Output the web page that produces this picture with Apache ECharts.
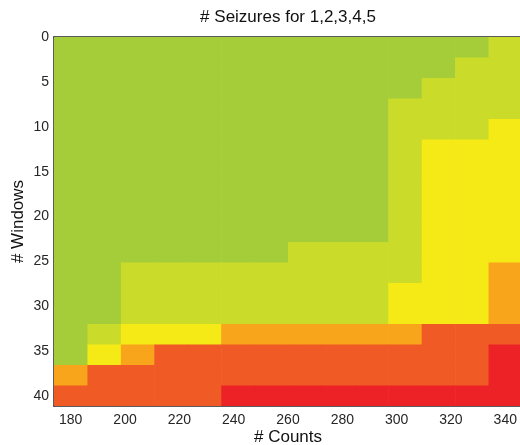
<!DOCTYPE html>
<html>
<head>
<meta charset="utf-8">
<script src="https://cdn.jsdelivr.net/npm/echarts@6/dist/echarts.min.js"></script>
<style>html,body{margin:0;padding:0;background:#fff}#c{width:520px;height:445px}</style>
</head>
<body>
<div id="c"></div>
<script>
// Column centres (# Counts) and row centres (# Windows)
var counts = [180, 192.31, 204.62, 216.92, 229.23, 241.54, 253.85, 266.15, 278.46, 290.77, 303.08, 315.38, 327.69, 340];
var windows = [1.14, 3.42, 5.71, 7.99, 10.27, 12.56, 14.84, 17.12, 19.41, 21.69, 23.97, 26.26, 28.54, 30.82, 33.11, 35.39, 37.67, 39.96];
// number of seizures detected per cell (rows = windows, cols = counts)
var seizures = [
  [5,5,5,5,5,5,5,5,5,5,5,5,5,4],
  [5,5,5,5,5,5,5,5,5,5,5,5,4,4],
  [5,5,5,5,5,5,5,5,5,5,5,4,4,4],
  [5,5,5,5,5,5,5,5,5,5,4,4,4,4],
  [5,5,5,5,5,5,5,5,5,5,4,4,4,3],
  [5,5,5,5,5,5,5,5,5,5,4,3,3,3],
  [5,5,5,5,5,5,5,5,5,5,4,3,3,3],
  [5,5,5,5,5,5,5,5,5,5,4,3,3,3],
  [5,5,5,5,5,5,5,5,5,5,4,3,3,3],
  [5,5,5,5,5,5,5,5,5,5,4,3,3,3],
  [5,5,5,5,5,5,5,4,4,4,4,3,3,3],
  [5,5,4,4,4,4,4,4,4,4,4,3,3,2],
  [5,5,4,4,4,4,4,4,4,4,3,3,3,2],
  [5,5,4,4,4,4,4,4,4,4,3,3,3,2],
  [5,4,3,3,3,2,2,2,2,2,2,1,1,1],
  [5,3,2,1,1,1,1,1,1,1,1,1,1,0],
  [2,1,1,1,1,1,1,1,1,1,1,1,1,0],
  [1,1,1,1,1,0,0,0,0,0,0,0,0,0]
];
var xTicks = [180, 200, 220, 240, 260, 280, 300, 320, 340];
var yTicks = [0, 5, 10, 15, 20, 25, 30, 35, 40];
var palette = ['#EC2227', '#F05A24', '#F9A51B', '#F5E916', '#CBDB2A', '#A5CD39'];

var cellW = 12.31, cellH = 2.283;
var data = [];
for (var r = 0; r < windows.length; r++) {
  for (var c = 0; c < counts.length; c++) {
    data.push([counts[c], windows[r], seizures[r][c]]);
  }
}

var font = "'Liberation Sans', Arial, Helvetica, sans-serif";
var axisColor = '#262626';
var chart = echarts.init(document.getElementById('c'), null, {renderer: 'canvas'});
chart.setOption({
  animation: false,
  backgroundColor: '#fff',
  title: {
    text: '# Seizures for 1,2,3,4,5',
    left: 288, top: 9, padding: 0, textAlign: 'center',
    textStyle: {fontFamily: font, fontSize: 17, fontWeight: 'normal', color: '#111'}
  },
  grid: {left: 54, top: 37, right: -2, bottom: 39, containLabel: false, outerBoundsMode: 'none'},
  xAxis: [{
    type: 'value', min: counts[0] - cellW / 2, max: counts[counts.length - 1] + cellW / 2,
    position: 'bottom',
    name: '# Counts', nameLocation: 'middle', nameGap: 23, nameMoveOverlap: false,
    nameTextStyle: {fontFamily: font, fontSize: 17, color: '#111'},
    axisLine: {show: true, onZero: false, lineStyle: {color: axisColor, width: 1.5}},
    axisTick: {show: true, inside: true, length: 4, customValues: xTicks, lineStyle: {color: axisColor}},
    axisLabel: {customValues: xTicks, fontFamily: font, fontSize: 14, color: axisColor, margin: 7},
    splitLine: {show: false}
  }, {
    type: 'value', min: counts[0] - cellW / 2, max: counts[counts.length - 1] + cellW / 2,
    position: 'top',
    axisLine: {show: true, onZero: false, lineStyle: {color: axisColor, width: 1.5}},
    axisTick: {show: true, inside: true, length: 4, customValues: xTicks, lineStyle: {color: axisColor}},
    axisLabel: {show: false},
    splitLine: {show: false}
  }],
  yAxis: [{
    type: 'value', inverse: true, min: 0, max: windows[windows.length - 1] + cellH / 2,
    position: 'left',
    name: '# Windows', nameLocation: 'middle', nameGap: 27, nameMoveOverlap: false,
    nameTextStyle: {fontFamily: font, fontSize: 17, color: '#111'},
    axisLine: {show: true, onZero: false, lineStyle: {color: axisColor, width: 1.5}},
    axisTick: {show: true, inside: true, length: 4, customValues: yTicks, lineStyle: {color: axisColor}},
    axisLabel: {customValues: yTicks, fontFamily: font, fontSize: 14, color: axisColor, margin: 5},
    splitLine: {show: false}
  }, {
    type: 'value', inverse: true, min: 0, max: windows[windows.length - 1] + cellH / 2,
    position: 'right',
    axisLine: {show: true, onZero: false, lineStyle: {color: axisColor, width: 1.5}},
    axisTick: {show: true, inside: true, length: 4, customValues: yTicks, lineStyle: {color: axisColor}},
    axisLabel: {show: false},
    splitLine: {show: false}
  }],
  series: [{
    type: 'custom',
    xAxisIndex: 0, yAxisIndex: 0,
    clip: true,
    z: 1,
    data: data,
    renderItem: function (params, api) {
      var x = api.value(0), y = api.value(1), lvl = api.value(2);
      var p1 = api.coord([x - cellW / 2, y - cellH / 2]);
      var p2 = api.coord([x + cellW / 2, y + cellH / 2]);
      return {
        type: 'rect',
        shape: {
          x: Math.min(p1[0], p2[0]), y: Math.min(p1[1], p2[1]),
          width: Math.abs(p2[0] - p1[0]) + 0.6, height: Math.abs(p2[1] - p1[1]) + 0.6
        },
        style: {fill: palette[lvl]}
      };
    }
  }]
});
</script>
</body>
</html>
